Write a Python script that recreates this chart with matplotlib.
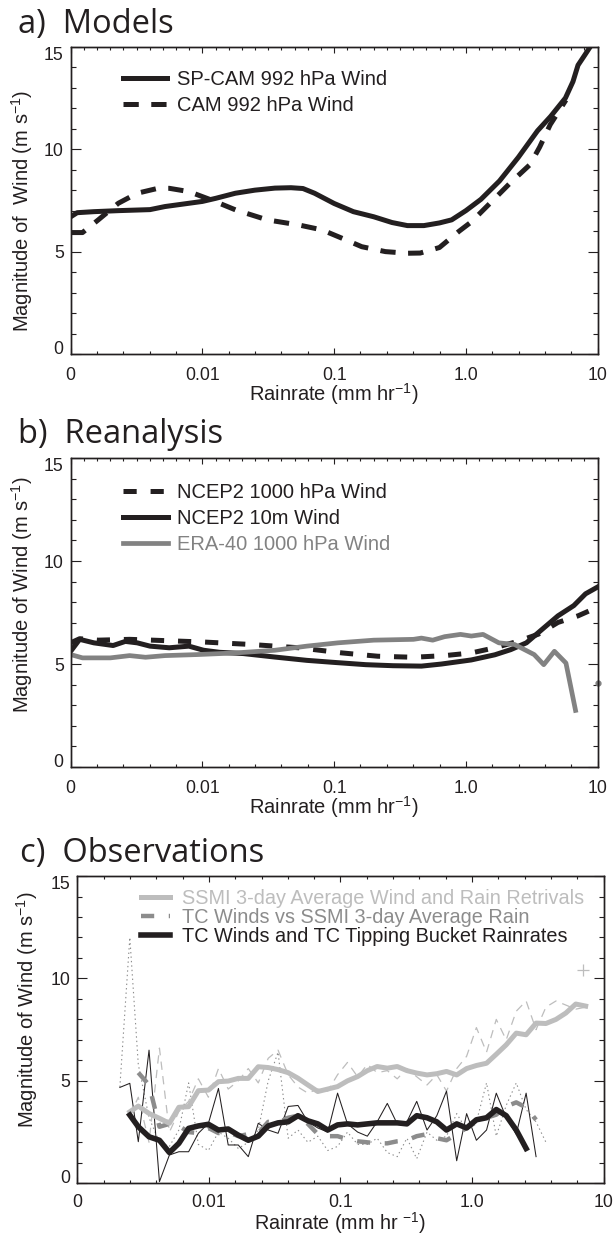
import numpy as np
import matplotlib
matplotlib.use('Agg')
import matplotlib.pyplot as plt
from matplotlib.ticker import FixedLocator, FixedFormatter, NullFormatter

plt.rcParams['font.family'] = ['Liberation Sans', 'DejaVu Sans']
plt.rcParams['mathtext.fontset'] = 'custom'
plt.rcParams['mathtext.rm'] = 'Liberation Sans'
plt.rcParams['mathtext.default'] = 'rm'
plt.rcParams['lines.scale_dashes'] = False

BLACK = '#231f20'
ERA_GREY = '#828282'
MID_GREY = '#8c8c8c'
LIGHT_GREY = '#bdbdbd'

# x axis: the leftmost decade stands for zero rain
decades = [0.001, 0.01, 0.1, 1.0, 10.0]
decade_labels = ['0', '0.01', '0.1', '1.0', '10']

# a) Models
spcam_rain = [0.001, 0.00112, 0.0015, 0.0023, 0.004, 0.0052, 0.01, 0.0126, 0.0178, 0.025,
              0.0355, 0.047, 0.058, 0.071, 0.1, 0.14, 0.2, 0.275, 0.36, 0.48, 0.63, 0.78,
              1.0, 1.3, 1.8, 2.5, 3.5, 4.4, 5.7, 6.5, 7.1, 8.0, 9.0]
spcam_wind = [6.7, 6.9, 6.95, 7.0, 7.05, 7.2, 7.45, 7.6, 7.85, 8.0,
              8.1, 8.12, 8.08, 7.85, 7.35, 6.95, 6.7, 6.42, 6.27, 6.27, 6.4, 6.55,
              7.0, 7.55, 8.45, 9.6, 10.9, 11.6, 12.5, 13.3, 14.1, 14.6, 15.1]
cam_rain = [0.001, 0.00123, 0.00162, 0.0023, 0.0032, 0.0046, 0.0056, 0.0079, 0.0117, 0.0178,
            0.031, 0.054, 0.081, 0.115, 0.162, 0.245, 0.36, 0.45, 0.63, 0.89,
            1.1, 1.53, 2.17, 3.07, 3.63, 4.37, 5.25, 5.75]
cam_wind = [5.93, 5.93, 6.55, 7.36, 7.85, 8.09, 8.09, 7.93, 7.52, 7.04,
            6.55, 6.3, 6.06, 5.65, 5.24, 5.0, 4.92, 4.93, 5.2, 6.0,
            6.45, 7.37, 8.35, 9.25, 10.1, 11.2, 12.0, 12.4]

# b) Reanalysis
ncep10_rain = [0.001, 0.00117, 0.0015, 0.0021, 0.0026, 0.0032, 0.004, 0.0056, 0.0079, 0.0102,
               0.0135, 0.0204, 0.0355, 0.062, 0.1, 0.174, 0.28, 0.46, 0.65, 1.1,
               1.66, 2.19, 2.88, 3.8, 5.0, 6.6, 8.1, 10.0]
ncep10_wind = [5.62, 6.2, 6.03, 5.9, 6.1, 6.03, 5.87, 5.79, 5.87, 5.67,
               5.57, 5.51, 5.34, 5.18, 5.08, 4.97, 4.92, 4.9, 5.0, 5.2,
               5.45, 5.7, 6.03, 6.69, 7.34, 7.84, 8.41, 8.74]
ncep1000_rain = [0.001, 0.00117, 0.00162, 0.0028, 0.0046, 0.0102, 0.0234, 0.054, 0.115, 0.214,
                 0.4, 0.69, 1.1, 1.66, 2.5, 3.55, 5.0, 7.1, 8.7]
ncep1000_wind = [6.03, 6.23, 6.16, 6.2, 6.15, 6.07, 5.95, 5.79, 5.54, 5.38,
                 5.33, 5.41, 5.54, 5.79, 6.11, 6.45, 7.02, 7.34, 7.59]
era_rain = [0.001, 0.00123, 0.002, 0.0028, 0.0037, 0.0052, 0.0091, 0.0178, 0.0355, 0.062,
            0.107, 0.2, 0.4, 0.46, 0.56, 0.69, 0.91, 1.1, 1.35, 1.78,
            2.34, 3.3, 3.9, 4.7, 5.75, 6.8]
era_wind = [5.46, 5.3, 5.3, 5.41, 5.33, 5.41, 5.46, 5.54, 5.67, 5.87,
            6.03, 6.16, 6.2, 6.26, 6.16, 6.33, 6.44, 6.36, 6.44, 6.03,
            5.95, 5.46, 4.97, 5.62, 5.05, 2.75]
era_last_rain = [10.0]
era_last_wind = [4.07]

# c) Observations, binned rain rates
obs_rain = [0.0021, 0.0025, 0.0029, 0.0035, 0.0042, 0.005, 0.0059, 0.007, 0.0083, 0.0099,
            0.0118, 0.014, 0.0167, 0.0199, 0.0237, 0.0282, 0.0335, 0.04, 0.0475, 0.0565,
            0.0672, 0.08, 0.095, 0.113, 0.135, 0.16, 0.19, 0.227, 0.27, 0.32,
            0.38, 0.455, 0.54, 0.64, 0.765, 0.91, 1.08, 1.29, 1.53, 1.82,
            2.17, 2.58, 3.07, 3.65, 4.35, 5.17, 6.15, 7.32]
# bins 1..47
ssmi_raw = [3.3, 4.2, 2.0, 6.6, 2.5, 3.5, 4.0, 5.1, 4.2, 5.6,
            4.6, 5.0, 5.6, 4.9, 6.1, 6.5, 5.3, 4.7, 4.4, 4.6,
            4.5, 5.3, 5.9, 5.2, 5.8, 5.4, 5.5, 5.1, 5.6, 5.2,
            4.8, 5.3, 4.5, 5.6, 6.2, 7.6, 6.4, 8.0, 7.0, 8.4,
            8.9, 7.5, 8.6, 8.9, 8.7, 8.5, 8.6]
# bins 1..47
ssmi_wind = [3.49, 3.77, 3.41, 3.17, 2.93, 3.71, 3.74, 4.52, 4.55, 4.96,
             4.99, 5.12, 5.12, 5.69, 5.65, 5.55, 5.4, 5.13, 4.8, 4.48,
             4.6, 4.72, 5.0, 5.21, 5.5, 5.7, 5.62, 5.7, 5.5, 5.38,
             5.29, 5.35, 5.46, 5.29, 5.6, 5.75, 5.86, 6.3, 6.76, 7.33,
             7.25, 7.82, 7.8, 8.0, 8.31, 8.75, 8.65]
# bins 0..43
tc_ssmi_raw = [4.7, 12.0, 5.8, 3.2, 2.0, 1.8, 2.6, 4.9, 1.9, 1.6,
               2.5, 2.2, 1.7, 2.0, 2.6, 5.0, 6.4, 2.2, 2.6, 2.0,
               2.3, 1.6, 1.8, 2.5, 1.9, 1.9, 2.2, 1.5, 1.3, 2.2,
               1.2, 2.5, 2.1, 2.3, 3.4, 2.6, 3.0, 4.9, 2.3, 3.8,
               4.9, 3.6, 3.0, 2.0]
# bins 2..42
tc_ssmi_wind = [5.4, 4.8, 2.76, 2.9, 2.8, 2.5, 2.45, 2.7, 2.45, 2.5,
                2.3, 2.4, 2.45, 3.0, 2.95, 3.2, 3.3, 2.9, 2.4, 2.3,
                2.3, 2.15, 2.05, 2.0, 1.95, 1.95, 2.05, 2.1, 2.3, 2.4,
                2.2, 2.1, 2.4, 2.7, 3.0, 3.2, 3.35, 3.75, 3.95, 3.7,
                3.1]
# bins 0..42
tc_raw = [4.68, 4.88, 2.03, 6.5, 0.08, 1.38, 1.54, 1.54, 2.44, 2.93,
          4.63, 1.87, 1.87, 1.3, 2.93, 2.6, 2.44, 3.75, 3.8, 3.0,
          2.7, 2.5, 4.4, 2.9, 2.5, 2.3, 3.0, 3.9, 2.9, 3.0,
          4.0, 2.6, 3.3, 4.5, 1.1, 3.4, 2.1, 2.6, 4.4, 3.2,
          2.4, 4.4, 1.3]
# bins 1..41
tc_wind = [3.33, 2.76, 2.27, 2.1, 1.5, 1.95, 2.68, 2.8, 2.88, 2.6,
           2.65, 2.35, 2.1, 2.3, 2.8, 2.95, 3.0, 3.3, 3.05, 2.9,
           2.6, 2.85, 2.9, 2.85, 2.9, 2.95, 2.95, 2.95, 2.9, 3.3,
           3.2, 3.0, 2.6, 2.9, 2.7, 3.1, 3.2, 3.6, 3.3, 2.6,
           1.7]
ssmi_extra_rain = [7.0]
ssmi_extra_wind = [10.43]

xlab = r'Rainrate (mm hr$^{-1}$)'
xlab_c = r'Rainrate (mm hr $^{-1}$)'
ylab_a = r'Magnitude of  Wind (m s$^{-1}$)'
ylab = r'Magnitude of Wind (m s$^{-1}$)'


def style_axis(ax, top_step, xpad=9):
    ax.set_xscale('log')
    ax.set_xlim(0.001, 10)
    ax.set_ylim(0, 15)
    ax.xaxis.set_major_locator(FixedLocator(decades))
    ax.xaxis.set_major_formatter(FixedFormatter(decade_labels))
    ax.xaxis.set_minor_locator(FixedLocator(10 ** np.arange(-3, 1.001, 0.2)))
    ax.xaxis.set_minor_formatter(NullFormatter())
    ax.yaxis.set_major_locator(FixedLocator([0, 5, 10, 15]))
    ax.yaxis.set_minor_locator(FixedLocator(range(16)))
    ax.tick_params(axis='both', which='both', direction='in', color=BLACK, width=0.8,
                   labelsize=12.7, labelcolor=BLACK)
    ax.tick_params(axis='y', which='major', length=7.5, right=True, pad=5)
    ax.tick_params(axis='y', which='minor', length=3.3, right=True)
    ax.tick_params(axis='x', which='major', length=4.5, pad=xpad)
    ax.tick_params(axis='x', which='minor', length=2.3)
    for s in ax.spines.values():
        s.set_linewidth(1.0)
        s.set_color(BLACK)

    top = ax.twiny()
    top.set_xscale('log')
    top.set_xlim(0.001, 10)
    top.xaxis.set_major_locator(FixedLocator(decades))
    top.xaxis.set_minor_locator(FixedLocator(10 ** np.arange(-3, 1.001, top_step)))
    top.xaxis.set_major_formatter(NullFormatter())
    top.xaxis.set_minor_formatter(NullFormatter())
    top.tick_params(axis='x', which='both', direction='in', color=BLACK, width=0.8)
    top.tick_params(axis='x', which='major', length=4.5)
    top.tick_params(axis='x', which='minor', length=2.3)
    for s in top.spines.values():
        s.set_linewidth(1.0)
        s.set_color(BLACK)

    # keep the end labels inside the frame
    yt = ax.yaxis.get_major_ticks()
    yt[0].label1.set_va('baseline')
    yt[-1].label1.set_va('top')


fig = plt.figure(figsize=(6.14, 12.34), dpi=100)

ax_a = fig.add_axes([0.1151, 0.7131, 0.8582, 0.2490])
ax_b = fig.add_axes([0.1151, 0.3784, 0.8582, 0.2504])
ax_c = fig.add_axes([0.1262, 0.0411, 0.8567, 0.2490])

# a) Models
l1, = ax_a.plot(spcam_rain, spcam_wind, color=BLACK, lw=3.6)
l2, = ax_a.plot(cam_rain, cam_wind, color=BLACK, lw=3.6, linestyle=(0, (11, 9)))
style_axis(ax_a, 0.1)
leg = ax_a.legend([l1, l2], ['SP-CAM 992 hPa Wind', 'CAM 992 hPa Wind'],
                  loc='upper left', bbox_to_anchor=(0.099, 0.923), frameon=False,
                  fontsize=14.5, handlelength=2.2, handletextpad=0.47, labelspacing=0.32,
                  borderpad=0, borderaxespad=0)
for t in leg.get_texts():
    t.set_color(BLACK)
ax_a.set_xlabel(xlab, fontsize=14.5, color=BLACK, va='top')
ax_a.xaxis.set_label_coords(0.5, -0.089)
ax_a.set_ylabel(ylab_a, fontsize=14.5, color=BLACK, va='center')
ax_a.yaxis.set_label_coords(-0.093, 0.467)

# b) Reanalysis
l1, = ax_b.plot(ncep1000_rain, ncep1000_wind, color=BLACK, lw=3.6, linestyle=(0, (9.5, 10)))
l2, = ax_b.plot(ncep10_rain, ncep10_wind, color=BLACK, lw=3.6)
l3, = ax_b.plot(era_rain, era_wind, color=ERA_GREY, lw=3.4)
ax_b.plot(era_last_rain, era_last_wind, marker='o', ms=3.5, color=ERA_GREY, lw=0, clip_on=False)
style_axis(ax_b, 0.1)
leg = ax_b.legend([l1, l2, l3], ['NCEP2 1000 hPa Wind', 'NCEP2 10m Wind', 'ERA-40 1000 hPa Wind'],
                  loc='upper left', bbox_to_anchor=(0.1, 0.918), frameon=False,
                  fontsize=14.5, handlelength=2.2, handletextpad=0.47, labelspacing=0.33,
                  borderpad=0, borderaxespad=0)
for t, c in zip(leg.get_texts(), [BLACK, BLACK, ERA_GREY]):
    t.set_color(c)
ax_b.set_xlabel(xlab, fontsize=14.5, color=BLACK, va='top')
ax_b.xaxis.set_label_coords(0.5, -0.089)
ax_b.set_ylabel(ylab, fontsize=14.5, color=BLACK, va='center')
ax_b.yaxis.set_label_coords(-0.093, 0.558)

# c) Observations
ax_c.plot(obs_rain[1:48], ssmi_raw, color=LIGHT_GREY, lw=0.9, linestyle=(0, (6, 4.5)))
ax_c.plot(obs_rain[0:44], tc_ssmi_raw, color=MID_GREY, lw=0.8, linestyle=(0, (1, 2.2)))
ax_c.plot(obs_rain[0:43], tc_raw, color=BLACK, lw=0.75)
l2, = ax_c.plot(obs_rain[2:43], tc_ssmi_wind, color=MID_GREY, lw=3.2, linestyle=(0, (9.5, 10.5)))
l1, = ax_c.plot(obs_rain[1:48], ssmi_wind, color=LIGHT_GREY, lw=3.6)
l3, = ax_c.plot(obs_rain[1:42], tc_wind, color=BLACK, lw=4.0)
ax_c.plot(ssmi_extra_rain, ssmi_extra_wind, marker='+', ms=8, mew=0.9, color=LIGHT_GREY, lw=0)
style_axis(ax_c, 0.2, xpad=8)
leg = ax_c.legend([l1, l2, l3], ['SSMI 3-day Average Wind and Rain Retrivals',
                                 'TC Winds vs SSMI 3-day Average Rain',
                                 'TC Winds and TC Tipping Bucket Rainrates'],
                  loc='upper left', bbox_to_anchor=(0.12, 0.958), frameon=False,
                  fontsize=14.3, handlelength=1.5, handletextpad=0.58, labelspacing=0.0,
                  borderpad=0, borderaxespad=0)
for t, c in zip(leg.get_texts(), [LIGHT_GREY, MID_GREY, BLACK]):
    t.set_color(c)
ax_c.set_xlabel(xlab_c, fontsize=14.2, color=BLACK, va='top')
ax_c.xaxis.set_label_coords(0.5, -0.086)
ax_c.set_ylabel(ylab, fontsize=14.5, color=BLACK, va='center')
ax_c.yaxis.set_label_coords(-0.096, 0.565)

# panel titles
title_font = dict(fontsize=23.5, family=['Open Sans', 'DejaVu Sans'], color=BLACK, va='baseline')
fig.text(0.0288, 0.9729, 'a)  Models', **title_font)
fig.text(0.0288, 0.6406, 'b)  Reanalysis', **title_font)
fig.text(0.0319, 0.3017, 'c)  Observations', **title_font)

fig.savefig('out.png', dpi=100)
